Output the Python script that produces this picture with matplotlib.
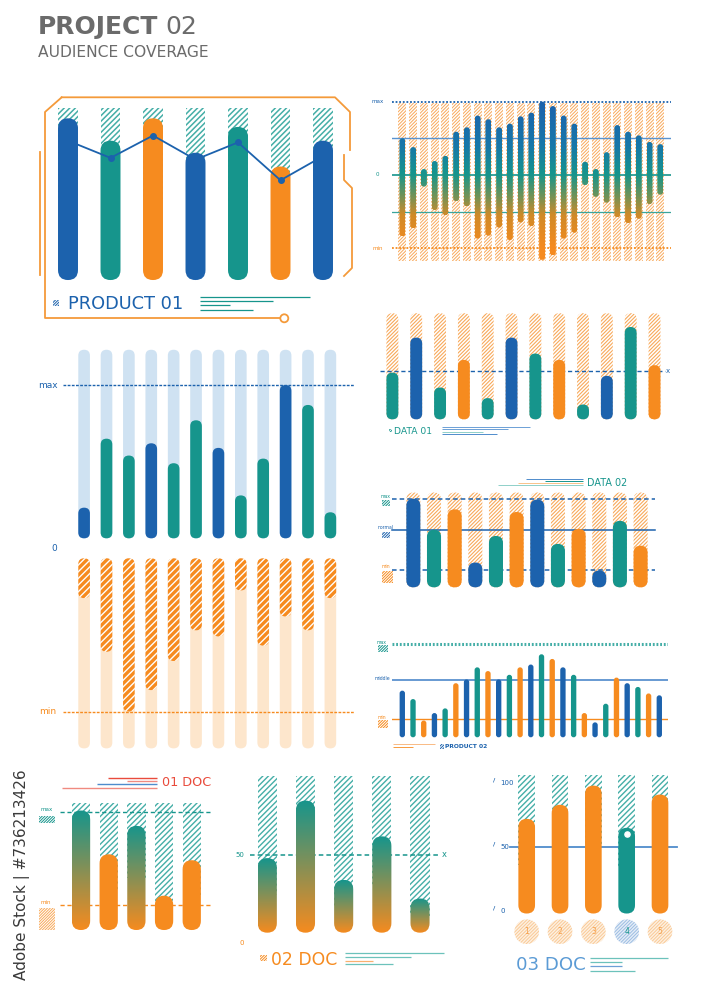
import numpy as np
import matplotlib.pyplot as plt
from matplotlib.patches import FancyBboxPatch, Ellipse, Rectangle, Circle
from matplotlib.colors import LinearSegmentedColormap

W, H = 707, 1000

BLUE = '#1c62ad'
TEAL = '#16958c'
ORANGE = '#f68b1f'
LBLUE = '#cfe2f2'
LORANGE = '#fde6cc'
HTEAL = '#45aea7'
HORANGE = '#f8a95a'
GRAY = '#6b6b6b'
RED = '#e94b3c'
SKY = '#5b9bd5'
FRAME = '#f49a3a'
CMAP = {'b': BLUE, 't': TEAL, 'o': ORANGE}

# ---- data ----
prod1_vals = [94, 81, 94, 74, 89, 66, 81]
prod1_line = [81, 71, 84, 70, 80, 58, 72]
prod1_cols = ['b', 't', 'o', 'b', 't', 'o', 'b']
prod1_cap = 100

wave_top = [50, 38, 8, 19, 26, 59, 65, 81, 76, 65, 70, 80, 85,
            100, 94, 81, 70, 18, 8, 31, 68, 59, 54, 45, 42]
wave_bot = [-84, -73, -16, -48, -55, -36, -43, -87, -83, -72, -89, -65, -70,
            -116, -110, -87, -79, -14, -30, -38, -58, -66, -60, -40, -27]
wave_cap = (-118, 98)
wave_levels = [100, 50, 0, -50, -100]

data1_vals = [44, 77, 30, 56, 20, 77, 62, 56, 14, 41, 87, 51]
data1_cols = ['t', 'b', 't', 'o', 't', 'b', 't', 'o', 't', 'b', 't', 'o']
data1_mark = 46
data1_cap = 100

data2_vals = [100, 65, 88, 28, 58, 85, 99, 49, 66, 19, 75, 47]
data2_cols = ['b', 't', 'o'] * 4
data2_levels = [100, 65, 20]
data2_cap = 107

prod2_vals = [50, 41, 18, 26, 31, 58, 62, 75, 71, 62, 67, 75, 78,
              89, 84, 75, 67, 26, 16, 36, 64, 58, 54, 47, 45]
prod2_cols = (['b', 't', 'o'] * 9)[:25]
prod2_levels = [100, 61, 20]

cover_up = [20, 65, 54, 62, 49, 77, 59, 28, 52, 100, 87, 17]
cover_up_cols = ['b', 't', 't'] * 4
cover_down = [-26, -61, -100, -86, -67, -47, -51, -21, -57, -38, -47, -26]
cover_span = 124

doc1_vals = [101, 64, 88, 29, 59]
doc1_grad = [True, False, True, False, False]
doc1_levels = [100, 21]
doc1_cap = 107

doc2_vals = [48, 85, 34, 62, 22]
doc2_mark = 50
doc2_cap = 101

doc3_vals = [72, 83, 98, 65, 91]
doc3_cols = ['o', 'o', 'o', 't', 'o']
doc3_ticks = [0, 50, 100]
doc3_cap = 106
doc3_labels = ['1', '2', '3', '4', '5']

wave_cmap = LinearSegmentedColormap.from_list(
    'wave', [(0.0, '#f58a1f'), (0.22, '#d08a28'), (0.36, '#6c935a'),
             (0.5, TEAL), (0.7, '#1877a9'), (1.0, BLUE)])
doc_cmap = LinearSegmentedColormap.from_list('doc', [ORANGE, TEAL])

fig = plt.figure(figsize=(W / 100, H / 100), dpi=100)

# background layer in pixel units for decorations and titles
bg = fig.add_axes([0, 0, 1, 1])
bg.set_xlim(0, W)
bg.set_ylim(H, 0)
bg.axis('off')


def panel(x0, y0, x1, y1, xlim, ylim):
    ax = fig.add_axes([x0 / W, 1 - y1 / H, (x1 - x0) / W, (y1 - y0) / H])
    ax.set_xlim(xlim)
    ax.set_ylim(ylim)
    ax.axis('off')
    return ax


def px_scale(ax):
    pos = ax.get_position()
    xl, yl = ax.get_xlim(), ax.get_ylim()
    return pos.width * W / (xl[1] - xl[0]), pos.height * H / (yl[1] - yl[0])


def hlw(p, lw):
    if hasattr(p, 'set_hatch_linewidth'):
        p.set_hatch_linewidth(lw)


def capsule(ax, x, y0, y1, w, hatch=None, hatch_lw=1.0, **kw):
    sx, sy = px_scale(ax)
    asp = sx / sy
    r = min(w / 2, (y1 - y0) / asp / 2)
    p = FancyBboxPatch((x - w / 2, y0), w, y1 - y0,
                       boxstyle=f'round,pad=0,rounding_size={r}',
                       mutation_aspect=asp, **kw)
    if hatch:
        p.set_hatch(hatch)
        hlw(p, hatch_lw)
    ax.add_patch(p)
    return p


def grad_capsule(ax, x, y0, y1, w, cmap, v0, v1, vmin, vmax, z=3):
    clip = capsule(ax, x, y0, y1, w, facecolor='none', edgecolor='none', lw=0)
    g = np.linspace(v1, v0, 256)[:, None]
    im = ax.imshow(g, cmap=cmap, vmin=vmin, vmax=vmax,
                   extent=(x - w / 2, x + w / 2, y0, y1), aspect='auto',
                   interpolation='bilinear', zorder=z)
    im.set_clip_path(clip)


def hbars(ax, xs, bottoms, tops, w, color, hatch, lw=1.0, z=1):
    bars = ax.bar(xs, np.array(tops) - np.array(bottoms), bottom=bottoms,
                  width=w, color='none', edgecolor=color, hatch=hatch,
                  lw=0, zorder=z)
    for b in bars:
        hlw(b, lw)


def swatch(x, y, w, h, color, hatch='/' * 12):
    r = Rectangle((x, y), w, h, facecolor='none', edgecolor=color,
                  hatch=hatch, lw=0)
    hlw(r, 0.7)
    bg.add_patch(r)


def deco_lines(spec, lw=0.9):
    for x0, x1, y, c in spec:
        bg.plot([x0, x1], [y, y], color=c, lw=lw, solid_capstyle='butt')


# ---- title ----
bg.text(38, 27, 'PROJECT', fontsize=18, fontweight='bold', color=GRAY,
        ha='left', va='center')
bg.text(165, 27, '02', fontsize=18, color=GRAY, ha='left', va='center')
bg.text(38, 52.5, 'AUDIENCE COVERAGE', fontsize=11.2, color=GRAY,
        ha='left', va='center')
bg.text(22, 875, 'Adobe Stock | #736213426', fontsize=11, color='#3a3a3a',
        rotation=90, ha='center', va='center')

# ---- PRODUCT 01 ----
for xs, ys in [([61.7, 335, 350, 350], [97.3, 97.3, 112, 150]),
               ([61.7, 45, 45, 280], [97.3, 112, 318, 318]),
               ([40, 40], [152, 275]),
               ([344, 344, 352, 352, 344], [155, 180, 188, 268, 276])]:
    bg.plot(xs, ys, color=FRAME, lw=1.3)
bg.add_patch(Circle((284.3, 318.3), 4, fill=False, ec=FRAME, lw=1.3))
bg.text(68, 304, 'PRODUCT 01', fontsize=12.8, color=BLUE, ha='left',
        va='center')
swatch(53, 300, 6, 6, BLUE)
deco_lines([(200, 310, 296.7, TEAL), (200, 273, 300.7, TEAL),
            (200, 230, 305, TEAL), (200, 253, 310, TEAL)])

axA = panel(46.75, 99.4, 344.25, 285.2, (-0.5, 6.5), (-3, 105))
xa = np.arange(len(prod1_vals))
hbars(axA, xa, np.array(prod1_vals) * 0.5, [prod1_cap] * len(xa), 0.47,
      HTEAL, '//////', 1.1)
for i, v in enumerate(prod1_vals):
    capsule(axA, i, 0, v, 0.47, facecolor=CMAP[prod1_cols[i]], lw=0, zorder=2)
axA.plot(xa, prod1_line, color=BLUE, lw=1.3, marker='o', ms=4, zorder=3)

# ---- wave panel ----
axB = panel(391.7, 98, 670.5, 265, (-1, 24.95), (-123, 105))
xb = np.arange(len(wave_top))
hbars(axB, xb, [wave_cap[0]] * len(xb), [wave_cap[1]] * len(xb), 0.75,
      HORANGE, '/' * 10, 0.7)
lvl_style = [(BLUE, (0, (1, 1)), 1.3), ('#5a93cf', '-', 1.0), (TEAL, '-', 1.2),
             ('#3aa59c', '-', 0.9), (ORANGE, (0, (1, 1)), 1.3)]
for lv, (c, ls, lw) in zip(wave_levels, lvl_style):
    axB.axhline(lv, color=c, ls=ls, lw=lw, zorder=2)
for i in xb:
    grad_capsule(axB, i, wave_bot[i], wave_top[i], 0.55, wave_cmap,
                 wave_bot[i], wave_top[i], -100, 100)
for lv, lab, c in [(100, 'max', BLUE), (0, '0', TEAL), (-100, 'min', ORANGE)]:
    axB.text(-2.3, lv, lab, fontsize=4, color=c, ha='center', va='center')

# ---- DATA 01 ----
axC = panel(380, 310, 670, 422, (-0.52, 11.65), (-2.5, 103))
for i, v in enumerate(data1_vals):
    capsule(axC, i, 0, data1_cap, 0.5, facecolor='none', edgecolor=HORANGE,
            hatch='/' * 9, hatch_lw=0.8, lw=0, zorder=1)
    capsule(axC, i, 0, v, 0.5, facecolor=CMAP[data1_cols[i]], lw=0, zorder=3)
axC.axhline(data1_mark, xmin=0, xmax=0.983, color=BLUE, ls=(0, (3, 2)),
            lw=1, zorder=2)
axC.text(11.57, data1_mark, 'x', fontsize=5, color=BLUE, ha='center',
         va='center')
bg.text(394, 431.7, 'DATA 01', fontsize=6.6, color=TEAL, ha='left',
        va='center')
swatch(388.5, 428.5, 3.5, 3.5, TEAL)
deco_lines([(441.7, 530, 426.7, '#6ca0d6'), (441.7, 508, 429, '#6ca0d6'),
            (441.7, 483, 431.7, '#8fd0c9'), (441.7, 497, 434.3, '#4f8ccc')],
           lw=0.7)

# ---- DATA 02 ----
axD = panel(390, 490, 660, 590, (-1.13, 11.94), (-3, 109.8))
for i, v in enumerate(data2_vals):
    capsule(axD, i, 0, data2_cap, 0.68, facecolor='none', edgecolor=HORANGE,
            hatch='/' * 9, hatch_lw=0.8, lw=0, zorder=1)
    capsule(axD, i, 0, v, 0.68, facecolor=CMAP[data2_cols[i]], lw=0, zorder=3)
for lv, ls in zip(data2_levels, [(0, (3, 2)), '-', (0, (3, 2))]):
    axD.axhline(lv, xmin=0.006, xmax=0.98, color=BLUE, ls=ls, lw=1.1,
                zorder=2)
for lv, lab, c in zip(data2_levels, ['max', 'normal', 'min'],
                      [TEAL, BLUE, ORANGE]):
    axD.text(-1.32, lv + 3, lab, fontsize=3.3, color=c, ha='center',
             va='center')
swatch(382, 500, 8, 6, TEAL)
swatch(382, 532, 8, 6, BLUE)
swatch(382, 571, 11, 12, ORANGE)
bg.text(586.7, 483.3, 'DATA 02', fontsize=6.9, color=TEAL, ha='left',
        va='center')
deco_lines([(525.7, 582.7, 479, '#4f8ccc'), (545, 582.7, 481, TEAL),
            (518, 582.7, 483.3, '#f9c38a'), (498, 582.7, 485.3, '#8fd0c9')],
           lw=0.7)

# ---- PRODUCT 02 ----
axE = panel(391.7, 640, 668.3, 740, (-0.99, 24.84), (-2.9, 104.3))
axE.axhline(prod2_levels[0], color=HTEAL, ls=(0, (0.6, 0.6)), lw=2.2,
            zorder=1)
axE.axhline(prod2_levels[1], color='#3f7fc6', lw=1.1, zorder=1)
axE.axhline(prod2_levels[2], color=ORANGE, lw=1.0, zorder=1)
for i, v in enumerate(prod2_vals):
    capsule(axE, i, 0, v, 0.5, facecolor=CMAP[prod2_cols[i]], lw=0, zorder=2)
for lv, lab, c in zip(prod2_levels, ['max', 'middle', 'min'],
                      [TEAL, BLUE, ORANGE]):
    axE.text(-1.9, lv + 1.5, lab, fontsize=3.3, color=c, ha='center',
             va='center')
swatch(378, 645, 10, 7, TEAL)
swatch(378, 720, 10, 8, ORANGE)
swatch(440, 743.5, 4, 5, BLUE)
bg.text(445, 746, 'PRODUCT 02', fontsize=4.3, fontweight='bold', color=BLUE,
        ha='left', va='center')
deco_lines([(393, 435, 743.5, '#f9b070'), (393, 413, 747, ORANGE)], lw=0.6)

# ---- coverage panel (upper / lower) ----
xf = np.arange(len(cover_up))
axF = panel(40, 345, 355, 542, (-1.97, 12.1), (-2.4, 126.1))
for i, v in enumerate(cover_up):
    capsule(axF, i, 0, cover_span - 1, 0.52, facecolor=LBLUE, lw=0, zorder=1)
    capsule(axF, i, 0, v, 0.52, facecolor=CMAP[cover_up_cols[i]], lw=0,
            zorder=3)
axF.axhline(100, xmin=(63 - 40) / 315, xmax=1, color=BLUE, ls=(0, (2, 1)),
            lw=1, zorder=2)
axF.text(-1.61, 100, 'max', fontsize=6.5, color=BLUE, ha='center',
         va='center')
axF.text(-1.34, -6.5, '0', fontsize=6.5, color=BLUE, ha='center', va='center')

axF2 = panel(40, 555, 355, 752, (-1.97, 12.1), (-126.35, 2.15))
for i, v in enumerate(cover_down):
    capsule(axF2, i, -cover_span, 0, 0.52, facecolor=LORANGE, lw=0, zorder=1)
    capsule(axF2, i, v, 0, 0.52, facecolor='white', edgecolor=ORANGE,
            hatch='/////', hatch_lw=2.4, lw=0, zorder=3)
axF2.axhline(-100, xmin=(63 - 40) / 315, xmax=1, color=ORANGE,
             ls=(0, (2, 1)), lw=1, zorder=4)
axF2.text(-1.61, -100, 'min', fontsize=6.5, color=ORANGE, ha='center',
          va='center')

# ---- 01 DOC ----
axG = panel(55, 795, 215, 935, (-0.94, 4.84), (-4.2, 114.1))
xg = np.arange(len(doc1_vals))
hbars(axG, xg, np.array(doc1_vals) * 0.5, [doc1_cap] * len(xg), 0.66,
      HTEAL, '//////', 1.0)
axG.axhline(doc1_levels[0], xmin=0.031, xmax=0.979, color=TEAL,
            ls=(0, (3, 2)), lw=1, zorder=2)
axG.axhline(doc1_levels[1], xmin=0.031, xmax=0.979, color=ORANGE,
            ls=(0, (3, 2)), lw=1, zorder=2)
for i, v in enumerate(doc1_vals):
    if doc1_grad[i]:
        grad_capsule(axG, i, 0, v, 0.66, doc_cmap, 0, 1, 0, 1)
    else:
        capsule(axG, i, 0, v, 0.66, facecolor=ORANGE, lw=0, zorder=3)
axG.text(-1.26, doc1_levels[0] + 1.5, 'max', fontsize=4, color=TEAL,
         ha='center', va='center')
axG.text(-1.26, doc1_levels[1] + 2, 'min', fontsize=4, color=ORANGE,
         ha='center', va='center')
swatch(39, 816, 16, 7, TEAL)
swatch(39, 908, 16, 22, HORANGE)
bg.text(162, 783, '01 DOC', fontsize=9.2, color=RED, ha='left', va='center')
deco_lines([(108, 157, 778, RED), (127, 157, 781, '#f08a80'),
            (97, 157, 784, '#4f8ccc'), (62, 157, 788, '#f08a80')], lw=1.0)

# ---- 02 DOC ----
axH = panel(245, 770, 450, 937, (-0.584, 4.785), (-2.77, 104.7))
xh = np.arange(len(doc2_vals))
hbars(axH, xh, np.array(doc2_vals) * 0.5, [doc2_cap] * len(xh), 0.5,
      HTEAL, '//////', 1.0)
axH.axhline(doc2_mark, xmin=(250 - 245) / 205, xmax=(440 - 245) / 205,
            color=TEAL, ls=(0, (3, 2)), lw=1.1, zorder=2)
for i, v in enumerate(doc2_vals):
    grad_capsule(axH, i, 0, v, 0.5, doc_cmap, 0, 1, 0, 1)
axH.text(4.63, doc2_mark, 'x', fontsize=6, color=TEAL, ha='center',
         va='center')
axH.text(-0.72, doc2_mark, '50', fontsize=5, color=TEAL, ha='center',
         va='center')
axH.text(-0.66, -6.6, '0', fontsize=5, color=ORANGE, ha='center',
         va='center')
swatch(260, 955, 7, 6, ORANGE)
bg.text(271, 960, '02 DOC', fontsize=12.4, color=ORANGE, ha='left',
        va='center')
deco_lines([(345, 444, 952.7, '#6cc2bb'), (345, 411, 956.7, '#6cc2bb'),
            (345, 373, 960.7, '#f9b070'), (345, 393, 964, '#6cc2bb')], lw=0.9)

# ---- 03 DOC ----
axI = panel(505, 770, 680, 950, (-0.651, 4.6), (-30.5, 110.2))
xi = np.arange(len(doc3_vals))
hbars(axI, xi, np.array(doc3_vals) * 0.5, [doc3_cap] * len(xi), 0.5,
      HTEAL, '//////', 1.0)
axI.axhline(50, xmin=(510 - 505) / 175, xmax=(676.7 - 505) / 175,
            color='#4f8ccc', lw=1.3, zorder=2)
for i, v in enumerate(doc3_vals):
    capsule(axI, i, -2, v, 0.5, facecolor=CMAP[doc3_cols[i]], lw=0, zorder=3)
for t in doc3_ticks:
    axI.text(-0.8, t, str(t), fontsize=5, color=BLUE, ha='left', va='center')
    axI.text(-0.98, t + 2, '/', fontsize=4.5, color=BLUE, ha='center',
             va='center', fontweight='bold')
axI.scatter([3], [doc3_vals[3] - 5.2], s=14, color='white', zorder=4)
sx, sy = px_scale(axI)
for i, lab in enumerate(doc3_labels):
    hi = doc3_cols[i] == 't'
    e = Ellipse((i, -16.2), 24.6 / sx, 24.6 / sy,
                facecolor='#e6eef8' if hi else '#fef1e2',
                edgecolor='#9cbde2' if hi else '#f9c996', hatch='/' * 10,
                lw=0, zorder=3)
    hlw(e, 0.7)
    axI.add_patch(e)
    axI.text(i, -16.2, lab, fontsize=5.5, color=TEAL if hi else '#f6a04a',
             ha='center', va='center', zorder=4)
bg.text(516, 965, '03 DOC', fontsize=13.1, color=SKY, ha='left', va='center')
deco_lines([(590, 668, 957.7, '#6cc2bb'), (590, 622, 961.7, '#6cc2bb'),
            (590, 622, 966, '#6ca0d6'), (590, 635, 970.7, '#6cc2bb')], lw=0.9)

fig.savefig('out.png', dpi=100, facecolor='white')
